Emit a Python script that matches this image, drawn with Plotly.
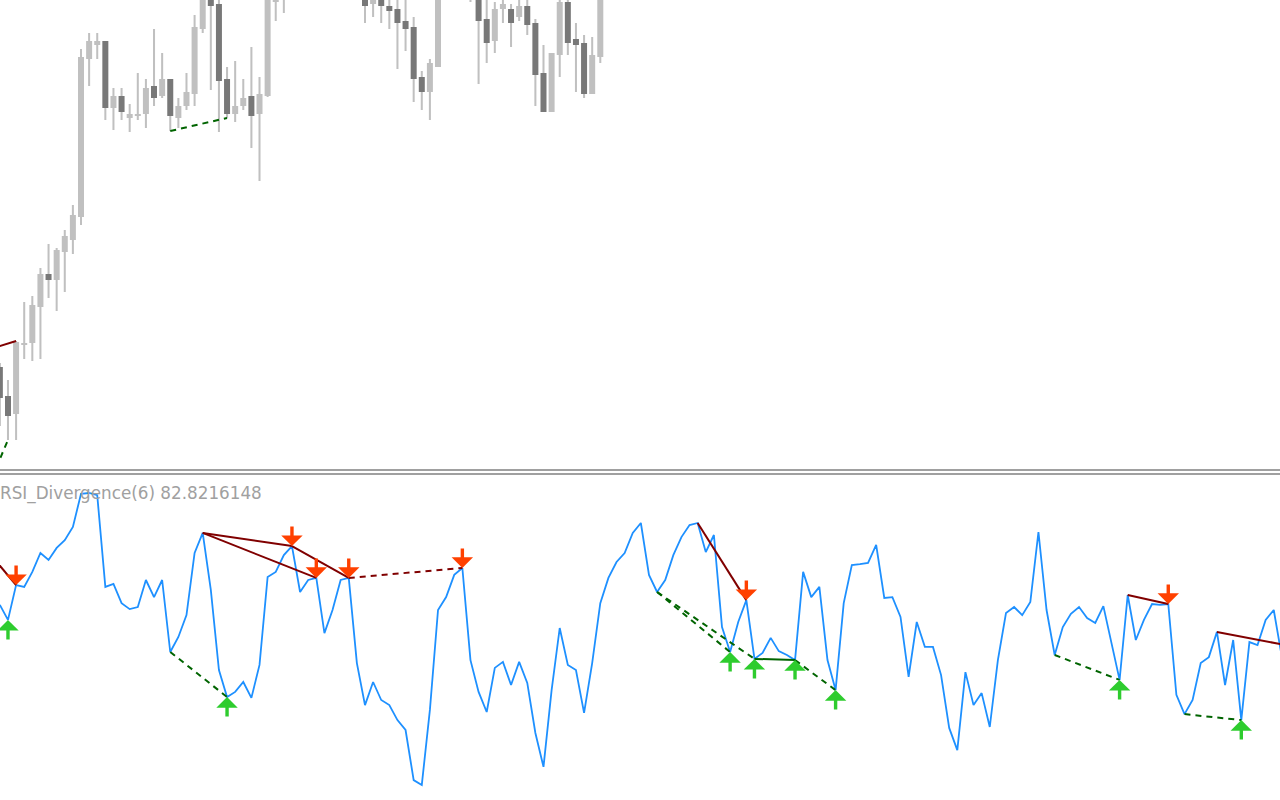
import plotly.graph_objects as go

# ---------------- price panel (bars 0..74, None = off-screen) ----------------
price_open = [1963.3, 1960.4, 1958.6, 1965.5, 1965.7, 1969.3, 1972.6, 1972.0, 1974.8, 1976.0,
              1978.3, 1994.1, 1995.5, 1995.9, 1989.2, 1990.4, 1988.2, 1988.4, 1988.6, 1991.4,
              1990.4, 1992.1, 1988.2, 1989.4, 1990.6, 1997.1, 2001.0, 1999.6, 1992.1, 1988.6,
              1989.4, 1990.4, 1988.6, 1990.4, 1999.8, 2000.5, None, None, None, None,
              None, None, None, None, None, 2000.8, 1999.6, 2000.6, 1999.4, 1999.1,
              1997.9, 1997.3, 1992.3, 1990.8, 1993.3, None, None, None, 2000.8, 2000.8,
              1998.1, 1995.9, 1999.1, 1999.1, 1998.3, 1999.4, 1997.7, 1992.7, 1988.8, 1994.5,
              1999.8, 1996.1, 1995.7, 1990.6, 1994.3]
price_high = [1963.7, 1962.0, 1965.9, 1969.8, 1970.4, 1973.2, 1975.6, 1975.2, 1977.0, 1979.5,
              1995.1, 1996.7, 1996.7, 1995.9, 1991.2, 1991.2, 1989.6, 1992.7, 1992.1, 1997.1,
              1994.7, 1992.1, 1990.2, 1992.7, 1998.5, 2002.2, 2002.5, 2000.6, 1993.3, 1993.9,
              1992.1, 1995.3, 1992.3, 2003.0, 2004.0, 2005.0, None, None, None, None,
              None, None, None, None, None, 2001.2, 2001.0, 2001.0, 2000.4, 2000.6,
              2000.4, 1998.3, 1992.9, 1994.1, 2002.5, None, None, None, 2003.0, 2001.2,
              2000.3, 1999.8, 2000.3, 1999.6, 2000.3, 2000.3, 1998.1, 1995.5, 1994.7, 2000.5,
              2000.5, 1997.7, 1996.5, 1996.3, 2003.0]
price_low = [1957.4, 1956.0, 1956.0, 1964.1, 1963.9, 1964.1, 1970.2, 1968.9, 1970.8, 1974.6,
             1977.5, 1991.4, 1994.1, 1988.0, 1987.0, 1988.0, 1986.8, 1988.0, 1987.2, 1989.4,
             1990.2, 1986.9, 1987.2, 1989.0, 1989.4, 1996.7, 1991.0, 1986.8, 1988.2, 1987.8,
             1989.0, 1985.2, 1981.9, 1990.3, 1997.9, 1998.7, None, None, None, None,
             None, None, None, None, None, 1997.7, 1998.3, 1997.7, 1997.1, 1993.1,
             1994.9, 1989.8, 1989.0, 1988.0, 1993.3, None, None, None, 1999.8, 1991.6,
             1993.7, 1994.7, 1997.7, 1995.3, 1997.9, 1996.5, 1989.4, 1988.8, 1988.8, 1992.3,
             1994.5, 1990.8, 1990.2, 1990.6, 1993.7]
price_close = [1960.2, 1958.4, 1965.8, 1965.7, 1969.5, 1972.6, 1972.0, 1975.0, 1976.4, 1978.5,
               1994.3, 1995.9, 1995.9, 1989.2, 1990.4, 1988.8, 1988.6, 1988.6, 1991.2, 1990.2,
               1992.1, 1988.4, 1989.4, 1990.8, 1997.3, 2001.4, 1999.4, 1991.9, 1988.6, 1989.4,
               1990.2, 1988.4, 1990.6, 2002.0, 2003.0, 2004.0, None, None, None, None,
               None, None, None, None, None, 1999.4, 2000.6, 1999.4, 1998.9, 1997.7,
               1997.1, 1992.1, 1990.8, 1993.7, 2002.0, None, None, None, 2002.0, 1997.9,
               1995.7, 1999.1, 1999.6, 1997.7, 1999.4, 1997.5, 1992.5, 1988.8, 1994.7, 1999.8,
               1995.7, 1995.5, 1990.6, 1994.5, 2002.0]

# ---------------- RSI panel (bars 0..158) ----------------
rsi = [61.7, 56.7, 68.3, 67.7, 72.7, 79.0, 76.7, 80.7, 83.3, 87.7,
       98.7, 99.0, 98.3, 67.7, 68.7, 62.3, 60.3, 61.0, 70.0, 64.3,
       70.0, 46.0, 51.0, 58.3, 79.0, 85.7, 66.7, 40.0, 31.0, 32.7,
       36.0, 30.7, 41.7, 71.0, 72.7, 78.3, 81.3, 66.0, 70.0, 70.7,
       52.3, 60.0, 70.0, 70.7, 42.3, 28.3, 36.0, 30.0, 28.3, 23.3,
       20.0, 3.3, 1.7, 26.7, 60.0, 64.3, 71.7, 74.0, 43.3, 32.7,
       26.0, 40.7, 42.7, 35.0, 42.7, 35.7, 19.0, 7.7, 33.3, 54.0,
       41.7, 40.0, 25.7, 42.3, 62.3, 70.7, 76.0, 79.0, 85.7, 89.0,
       71.7, 66.0, 70.0, 78.3, 84.3, 88.3, 89.0, 79.3, 85.0, 54.3,
       46.0, 56.0, 63.3, 43.7, 45.7, 50.7, 46.3, 45.0, 43.3, 72.7,
       64.3, 67.7, 43.3, 33.3, 62.3, 75.0, 75.3, 75.7, 81.7, 64.0,
       64.3, 57.7, 37.7, 56.0, 47.7, 47.7, 38.3, 20.7, 13.3, 39.3,
       28.3, 32.3, 21.0, 43.3, 59.0, 61.0, 58.3, 62.7, 86.0, 60.0,
       45.0, 54.3, 58.7, 61.0, 57.3, 55.7, 61.3, 49.3, 36.7, 65.0,
       50.0, 56.7, 62.0, 61.7, 62.0, 31.7, 25.3, 30.0, 42.3, 44.3,
       52.7, 35.0, 50.0, 23.3, 49.3, 48.3, 56.7, 60.0, 44.3]

sell_arrow_bars = [2, 36, 39, 43, 57, 92, 144]
buy_arrow_bars = [1, 28, 90, 93, 98, 103, 138, 153]

# divergence lines on RSI: (bar0, bar1, kind, style); values from rsi except off-screen ends
rsi_div = [(25, 36, "bear", "solid"), (25, 39, "bear", "solid"), (36, 43, "bear", "solid"),
           (43, 57, "bear", "dash"), (86, 92, "bear", "solid"), (139, 144, "bear", "solid"),
           (21, 28, "bull", "dash"), (81, 90, "bull", "dash"), (81, 93, "bull", "dash"),
           (93, 98, "bull", "solid"), (98, 103, "bull", "dash"), (130, 138, "bull", "dash"),
           (146, 153, "bull", "dash")]
rsi_edge_lines = [([-2, 2], [81.2, 68.3], "bear", "solid"),
                  ([150, 159], [52.7, 48.0], "bear", "solid")]
price_div = [([-2, 2], [1964.9, 1965.9], "bear", "solid"),
             ([-1, 1], [1952.2, 1956.0], "bull", "dash"),
             ([21, 28], [1986.9, 1988.2], "bull", "dash")]

LIGHT = "#c0c0c0"
DARK = "#787878"
BLUE = "#1e90ff"
BEAR = "#800000"
BULL = "#006400"
DASH = "6px,5px"

fig = go.Figure()

# candles
bx, wick_base, wick_h, body_base, body_h, body_col = [], [], [], [], [], []
for k, (o, h, l, c) in enumerate(zip(price_open, price_high, price_low, price_close)):
    if o is None:
        continue
    bx.append(k)
    wick_base.append(l)
    wick_h.append(round(h - l, 2))
    body_base.append(min(o, c))
    body_h.append(max(round(abs(c - o), 2), 0.2))
    body_col.append(LIGHT if c >= o else DARK)

fig.add_trace(go.Bar(x=bx, y=wick_h, base=wick_base, width=0.25,
                     marker=dict(color=LIGHT, line=dict(width=0)), xaxis="x", yaxis="y",
                     hoverinfo="skip"))
fig.add_trace(go.Bar(x=bx, y=body_h, base=body_base, width=0.74,
                     marker=dict(color=body_col, line=dict(width=0)), xaxis="x", yaxis="y",
                     hoverinfo="skip"))

for xs, ys, kind, style in price_div:
    fig.add_trace(go.Scatter(x=xs, y=ys, mode="lines", xaxis="x", yaxis="y",
                             line=dict(color=BEAR if kind == "bear" else BULL, width=2,
                                       dash=DASH if style == "dash" else "solid")))

# RSI line
fig.add_trace(go.Scatter(x=list(range(len(rsi))), y=rsi, mode="lines", xaxis="x2", yaxis="y2",
                         line=dict(color=BLUE, width=1.8)))

for b0, b1, kind, style in rsi_div:
    fig.add_trace(go.Scatter(x=[b0, b1], y=[rsi[b0], rsi[b1]], mode="lines", xaxis="x2", yaxis="y2",
                             line=dict(color=BEAR if kind == "bear" else BULL, width=2,
                                       dash=DASH if style == "dash" else "solid")))
for xs, ys, kind, style in rsi_edge_lines:
    fig.add_trace(go.Scatter(x=xs, y=ys, mode="lines", xaxis="x2", yaxis="y2",
                             line=dict(color=BEAR if kind == "bear" else BULL, width=2,
                                       dash=DASH if style == "dash" else "solid")))

for k in sell_arrow_bars:
    fig.add_annotation(x=k, y=rsi[k], xref="x2", yref="y2", text="", showarrow=True,
                       ax=0, ay=-21, arrowhead=1, arrowsize=1.05, arrowwidth=3.4,
                       arrowcolor="#ff4000", standoff=0)
for k in buy_arrow_bars:
    fig.add_annotation(x=k, y=rsi[k], xref="x2", yref="y2", text="", showarrow=True,
                       ax=0, ay=21, arrowhead=1, arrowsize=1.05, arrowwidth=3.4,
                       arrowcolor="#2ecc2e", standoff=0)

fig.add_annotation(x=0, y=1 - 481 / 800, xref="paper", yref="paper", xanchor="left", yanchor="top",
                   text="RSI_Divergence(6) 82.8216148", showarrow=False, xshift=-2,
                   font=dict(family="DejaVu Sans", size=16.8, color="#a0a0a0"))

for py in (470, 474):
    fig.add_shape(type="line", xref="paper", yref="paper", x0=0, x1=1,
                  y0=1 - py / 800, y1=1 - py / 800, line=dict(color="#a0a0a0", width=2))

xr = [0.017, 157.77]
fig.update_layout(
    width=1280, height=800, margin=dict(l=0, r=0, t=0, b=0),
    paper_bgcolor="white", plot_bgcolor="white", showlegend=False, barmode="overlay",
    xaxis=dict(domain=[0, 1], range=xr, visible=False, anchor="y"),
    yaxis=dict(domain=[1 - 468 / 800, 1], range=[1953.2, 2000.0], visible=False, anchor="x"),
    xaxis2=dict(domain=[0, 1], range=xr, visible=False, anchor="y2"),
    yaxis2=dict(domain=[0, 324 / 800], range=[-3.333, 104.667], visible=False, anchor="x2"),
)

fig.write_html("out.html", config={"displayModeBar": False},
               post_script="document.body.style.margin='0';document.body.style.overflow='hidden';")
